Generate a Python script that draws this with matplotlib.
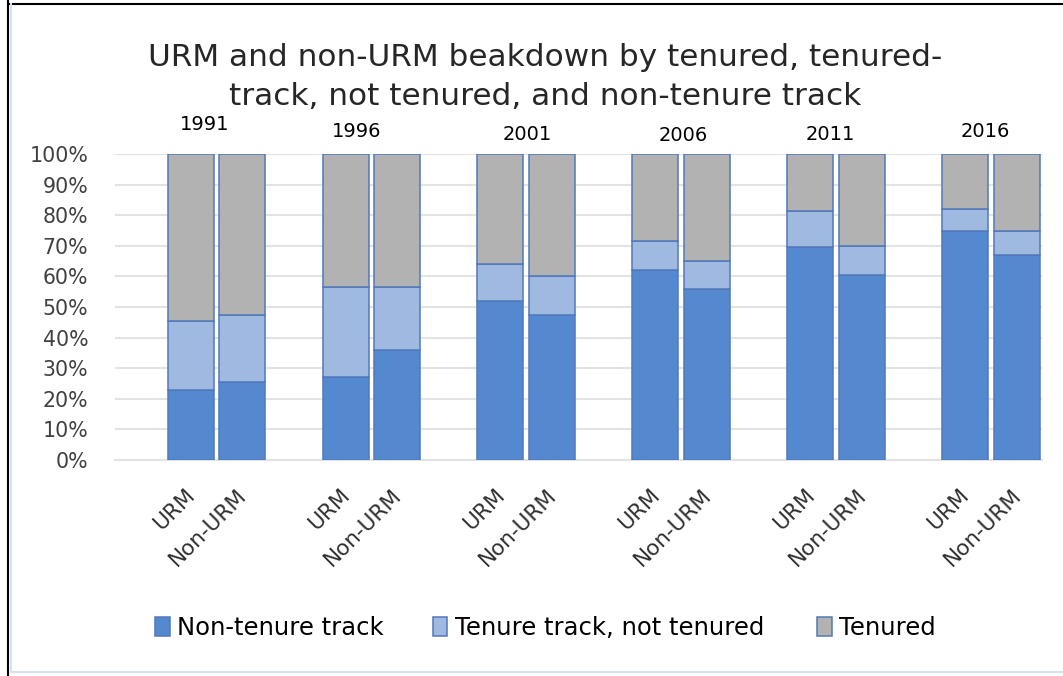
import matplotlib
matplotlib.use("Agg")
import matplotlib.pyplot as plt
import matplotlib.transforms as mtransforms
from matplotlib.lines import Line2D
import numpy as np

years = ["1991", "1996", "2001", "2006", "2011", "2016"]
groups = ["URM", "Non-URM"]

# percent of faculty, one value per bar: URM, Non-URM for each year in order
non_tenure_track = [23, 25.5, 27, 36, 52, 47.5, 62, 56, 69.5, 60.5, 75, 67]
tenure_track_not_tenured = [22.5, 22, 29.5, 20.5, 12, 12.5, 9.5, 9, 12, 9.5, 7, 8]
tenured = [54.5, 52.5, 43.5, 43.5, 36, 40, 28.5, 35, 18.5, 30, 18, 25]

series_names = ["Non-tenure track", "Tenure track, not tenured", "Tenured"]
colors = ["#5589cf", "#a0b9e1", "#b2b2b2"]
EDGE = "#5079bb"

fig = plt.figure(figsize=(10.63, 6.76), dpi=100)
ax = fig.add_axes([0.108, 0.3195, 0.872, 0.4525])

# bars sit in pairs, with one empty slot between years
x = np.array([3 * i + j for i in range(len(years)) for j in range(len(groups))], dtype=float)
bottom = np.zeros(len(x))
handles = []
for vals, name, c in zip([non_tenure_track, tenure_track_not_tenured, tenured], series_names, colors):
    vals = np.array(vals) / 100.0
    b = ax.bar(x, vals, width=0.89, bottom=bottom, color=c, edgecolor=EDGE,
               linewidth=1.1, label=name, zorder=3)
    handles.append(b)
    bottom += vals

ax.set_xlim(-1.47, 16.485)
ax.set_ylim(0, 1)
ax.set_yticks(np.arange(0, 1.01, 0.1))
ax.set_yticklabels(["{}%".format(int(round(v * 100))) for v in np.arange(0, 1.01, 0.1)],
                   fontsize=14.8, color="#404040")
ax.set_xticks(x)
ax.set_xticklabels(groups * len(years), rotation=45, ha="right", va="top",
                   rotation_mode="anchor", fontsize=15.5, color="#303030")
ax.tick_params(axis="y", length=0, pad=19)
ax.tick_params(axis="x", length=0, pad=18)
# nudge the slanted labels a little to the left, like the original
shift = mtransforms.ScaledTranslation(-6 / 100, 0, fig.dpi_scale_trans)
for lbl in ax.get_xticklabels():
    lbl.set_transform(lbl.get_transform() + shift)
ax.grid(axis="y", color="#e3e3e3", linewidth=1.5, zorder=0)
for s in ["top", "right", "left"]:
    ax.spines[s].set_visible(False)
ax.spines["bottom"].set_color("#e3e3e3")
ax.spines["bottom"].set_linewidth(1.5)

# year labels above each pair (hand placed text boxes in the original)
year_dx = [-0.23, -0.28, 0.02, 0.04, -0.11, -0.1]
year_y = [1.098, 1.075, 1.065, 1.06, 1.065, 1.075]
for i, yr in enumerate(years):
    ax.text(3 * i + 0.5 + year_dx[i], year_y[i], yr, ha="center", va="center",
            fontsize=14, color="black", transform=ax.get_xaxis_transform())

fig.text(0.513, 0.886, "URM and non-URM beakdown by tenured, tenured-\ntrack, not tenured, and non-tenure track",
         ha="center", va="center", fontsize=22.4, color="#262626", linespacing=1.45)

# legend entries placed one by one, as the spacing in the original is uneven
legend_x = [0.146, 0.407, 0.769]
for h, name, lx in zip(handles, series_names, legend_x):
    fig.legend(handles=[h], labels=[name], loc="center left", bbox_to_anchor=(lx, 0.071),
               frameon=False, fontsize=17.5, handlelength=0.6, handleheight=0.8,
               handletextpad=0.3, borderpad=0, borderaxespad=0)

# frame around the picture
fig.add_artist(Line2D([0.0075, 0.0075], [0, 1], transform=fig.transFigure, color="black", lw=1.5))
fig.add_artist(Line2D([0.0075, 1], [0.994, 0.994], transform=fig.transFigure, color="black", lw=1.5))
fig.add_artist(Line2D([0.0105, 0.0105], [0.006, 0.994], transform=fig.transFigure, color="#d6e2f2", lw=1.5))
fig.add_artist(Line2D([0.0105, 1], [0.006, 0.006], transform=fig.transFigure, color="#d6e2f2", lw=1.5))

fig.savefig("out.png", dpi=100)
